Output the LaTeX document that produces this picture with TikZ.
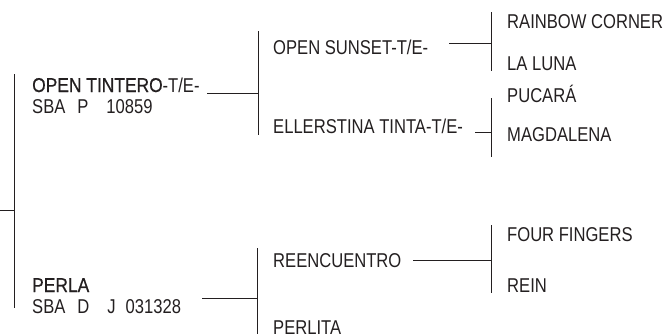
\documentclass[tikz,border=0pt]{standalone}
\usepackage{fontspec}
\setmainfont{Liberation Sans}[FakeStretch=0.83]
\newfontfamily\namefont{Liberation Sans}[FakeStretch=0.87,FakeBold=0.6]
\usetikzlibrary{positioning}
\definecolor{ink}{RGB}{35,31,32}

\begin{document}
\begin{tikzpicture}[
    x=1pt, y=-1pt,
    horse/.style={anchor=base west, inner sep=0pt, text=ink, font=\fontsize{20}{24}\selectfont},
    line/.style={draw=ink, line width=0.9pt}
]
\clip (0,0) rectangle (667,333);

\node[horse] (tintero) at (32,92) {{\namefont OPEN TINTERO}-T/E-};
\node[horse] (tinteroreg) at (32,113) {SBA\hspace{12pt}P\hspace{18pt}10859};
\node[horse] (perla) at (32,292) {\namefont PERLA};
\node[horse] (perlareg) at (32,313) {SBA\hspace{12pt}D\hspace{18pt}J\hspace{10pt}031328};

\node[horse] (sunset) at (273,54) {OPEN SUNSET-T/E-};
\node[horse] (ellerstina) at (273,133) {ELLERSTINA TINTA-T/E-};
\node[horse] (reencuentro) at (273,267) {REENCUENTRO};
\node[horse] (perlita) at (273,334) {PERLITA};

\node[horse] (rainbow) at (507,28) {RAINBOW CORNER};
\node[horse] (laluna) at (507,70.5) {LA LUNA};
\node[horse] (pucara) at (507,102) {PUCARÁ};
\node[horse] (magdalena) at (507,141.5) {MAGDALENA};
\node[horse] (fourfingers) at (507,241.5) {FOUR FINGERS};
\node[horse] (rein) at (507,292.5) {REIN};

\coordinate (root) at (0,210);
\coordinate (rootbar-t) at (14,74);
\coordinate (rootbar-b) at (14,308);
\coordinate (tintero-l) at (207,93);
\coordinate (tinterobar-t) at (258,31);
\coordinate (tinterobar-b) at (258,135);
\coordinate (perla-l) at (202,298);
\coordinate (perlabar-t) at (257,248);
\coordinate (perlabar-b) at (257,340);
\coordinate (sunset-l) at (449,43);
\coordinate (sunsetbar-t) at (491,12);
\coordinate (sunsetbar-b) at (491,71);
\coordinate (ellerstina-l) at (475,132);
\coordinate (ellerstinabar-t) at (491,98);
\coordinate (ellerstinabar-b) at (491,157);
\coordinate (reencuentro-l) at (413,260);
\coordinate (reencuentrobar-t) at (491,225);
\coordinate (reencuentrobar-b) at (491,293);

\draw[line] (rootbar-t) -- (rootbar-b);
\draw[line] (root) -- (root -| rootbar-t);
\draw[line] (tinterobar-t) -- (tinterobar-b);
\draw[line] (tintero-l) -- (tintero-l -| tinterobar-t);
\draw[line] (perlabar-t) -- (perlabar-b);
\draw[line] (perla-l) -- (perla-l -| perlabar-t);
\draw[line] (sunsetbar-t) -- (sunsetbar-b);
\draw[line] (sunset-l) -- (sunset-l -| sunsetbar-t);
\draw[line] (ellerstinabar-t) -- (ellerstinabar-b);
\draw[line] (ellerstina-l) -- (ellerstina-l -| ellerstinabar-t);
\draw[line] (reencuentrobar-t) -- (reencuentrobar-b);
\draw[line] (reencuentro-l) -- (reencuentro-l -| reencuentrobar-t);
\end{tikzpicture}
\end{document}
